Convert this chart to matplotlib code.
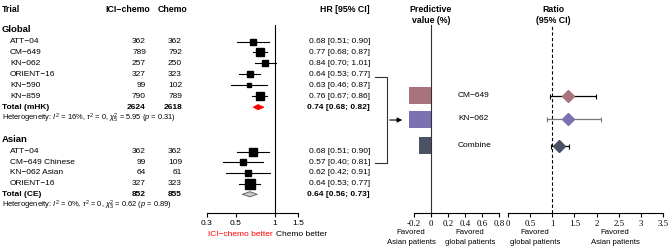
import numpy as np
import matplotlib
matplotlib.use("Agg")
from matplotlib import pyplot as plt

plt.rcParams['font.family'] = ['Liberation Sans', 'DejaVu Sans']
plt.rcParams['mathtext.fontset'] = 'custom'
plt.rcParams['mathtext.rm'] = 'Liberation Sans'
plt.rcParams['mathtext.it'] = 'Liberation Sans:italic'

# ---- data ----
global_trials = ["ATT\u221204", "CM\u2212649", "KN\u2212062", "ORIENT\u221216", "KN\u2212590", "KN\u2212859"]
global_ici = [362, 789, 257, 327, 99, 790]
global_chemo = [362, 792, 250, 323, 102, 789]
global_hr = [0.68, 0.77, 0.84, 0.64, 0.63, 0.76]
global_lo = [0.51, 0.68, 0.70, 0.53, 0.46, 0.67]
global_hi = [0.90, 0.87, 1.01, 0.77, 0.87, 0.86]
global_wt = [5, 8, 6, 6, 4, 8]
global_total = (2624, 2618, 0.74, 0.68, 0.82)

asian_trials = ["ATT\u221204", "CM\u2212649 Chinese", "KN\u2212062 Asian", "ORIENT\u221216"]
asian_ici = [362, 99, 64, 327]
asian_chemo = [362, 109, 61, 323]
asian_hr = [0.68, 0.57, 0.62, 0.64]
asian_lo = [0.51, 0.40, 0.42, 0.53]
asian_hi = [0.90, 0.81, 0.91, 0.77]
asian_wt = [7, 6, 5, 9]
asian_total = (852, 855, 0.64, 0.56, 0.73)

het_global = r"Heterogeneity: $I^2$ = 16%, $\tau^2$ = 0, $\chi^2_5$ = 5.95 ($p$ = 0.31)"
het_asian = r"Heterogeneity: $I^2$ = 0%, $\tau^2$ = 0, $\chi^2_3$ = 0.62 ($p$ = 0.89)"

pv_labels = ["CM\u2212649", "KN\u2212062", "Combine"]
pv_values = [-0.26, -0.26, -0.14]
ratio = [1.36, 1.36, 1.16]
ratio_lo = [0.95, 0.89, 0.98]
ratio_hi = [1.98, 2.09, 1.38]
colors = ["#a8737c", "#7a70b2", "#4b5266"]
err_colors = ["black", "#777777", "black"]

# ---- layout helpers (pixel units) ----
W, H = 668, 246
def box(x0, y0, x1, y1):
    return [x0 / W, 1 - y1 / H, (x1 - x0) / W, (y1 - y0) / H]

fig = plt.figure(figsize=(W / 100, H / 100), dpi=100)
bg = fig.add_axes([0, 0, 1, 1])
bg.set_xlim(0, W)
bg.set_ylim(H, 0)
bg.axis('off')

fs = 6.0
g_rows = [41.5 + 10.95 * i for i in range(len(global_trials))]
g_tot = 41.5 + 10.95 * 6
a_rows = [151.5 + 10.7 * i for i in range(len(asian_trials))]
a_tot = 151.5 + 10.7 * 4

# headers
bg.text(2, 9, "Trial", fontsize=6.3, fontweight='bold', va='center')
bg.text(150, 9, "ICI\u2212chemo", fontsize=6.3, fontweight='bold', va='center', ha='right')
bg.text(187, 9, "Chemo", fontsize=6.3, fontweight='bold', va='center', ha='right')
bg.text(345, 9, "HR [95% CI]", fontsize=6.3, fontweight='bold', va='center', ha='center')
bg.text(431, 5, "Predictive\nvalue (%)", fontsize=6.3, fontweight='bold', va='top', ha='center', linespacing=1.25)
bg.text(553, 5, "Ratio\n(95% CI)", fontsize=6.3, fontweight='bold', va='top', ha='center', linespacing=1.25)

def table(title, ty, names, ici, chemo, hr, lo, hi, rows, tot, trow, tlabel, het, hy):
    bg.text(2, ty, title, fontsize=6.8, fontweight='bold', va='center')
    for n, a, c, h, l, u, y in zip(names, ici, chemo, hr, lo, hi, rows):
        bg.text(10, y, n, fontsize=fs, va='center')
        bg.text(146, y, str(a), fontsize=fs, va='center', ha='right')
        bg.text(182, y, str(c), fontsize=fs, va='center', ha='right')
        bg.text(370, y, "%.2f [%.2f; %.2f]" % (h, l, u), fontsize=fs, va='center', ha='right')
    bg.text(2, trow, tlabel, fontsize=fs, fontweight='bold', va='center')
    bg.text(146, trow, str(tot[0]), fontsize=fs, fontweight='bold', va='center', ha='right')
    bg.text(182, trow, str(tot[1]), fontsize=fs, fontweight='bold', va='center', ha='right')
    bg.text(370, trow, "%.2f [%.2f; %.2f]" % tot[2:], fontsize=fs, fontweight='bold', va='center', ha='right')
    bg.text(2, hy, het, fontsize=5.4, va='center')

table("Global", 30, global_trials, global_ici, global_chemo, global_hr, global_lo, global_hi,
      g_rows, global_total, g_tot, "Total (mHK)", het_global, 118)
table("Asian", 140, asian_trials, asian_ici, asian_chemo, asian_hr, asian_lo, asian_hi,
      a_rows, asian_total, a_tot, "Total (CE)", het_asian, 205)

# connector + arrow
y1 = g_rows[3] + 2.5
y2 = a_rows[1] + 1
bg.plot([375, 387, 387, 375], [y1, y1, y2, y2], color='#333333', lw=0.8)
bg.annotate("", xy=(405, (y1 + y2) / 2), xytext=(387, (y1 + y2) / 2),
            arrowprops=dict(arrowstyle='-|>', color='black', lw=0.8, mutation_scale=7))

# ---- forest plot ----
ax = fig.add_axes(box(207, 25, 298, 213))
ax.set_xscale('log')
ax.set_xlim(0.3, 1.5)
ax.set_ylim(213, 25)
ax.patch.set_alpha(0)
for s in ['left', 'top', 'right']:
    ax.spines[s].set_visible(False)
ax.spines['bottom'].set_linewidth(0.8)
ax.set_yticks([])
ax.set_xticks([0.3, 0.5, 1, 1.5])
ax.set_xticklabels(["0.3", "0.5", "1", "1.5"])
ax.xaxis.set_minor_locator(matplotlib.ticker.NullLocator())
ax.tick_params(axis='x', labelsize=fs, length=3, width=0.8, pad=2)
ax.axvline(1, color='black', lw=0.8)

for hr, lo, hi, wt, rows in [(global_hr, global_lo, global_hi, global_wt, g_rows),
                             (asian_hr, asian_lo, asian_hi, asian_wt, a_rows)]:
    for h, l, u, w, y in zip(hr, lo, hi, wt, rows):
        ax.plot([l, u], [y, y], color='black', lw=0.8, clip_on=False)
        ax.plot(h, y, marker='s', color='black', markersize=w * 0.75, clip_on=False)

def diamond(h, l, u, y, fc, ec):
    xs = [l, h, u, h, l]
    ys = [y, y - 2.6, y, y + 2.6, y]
    ax.fill(xs, ys, facecolor=fc, edgecolor=ec, lw=0.6)

diamond(global_total[2], global_total[3], global_total[4], g_tot, 'red', 'red')
diamond(asian_total[2], asian_total[3], asian_total[4], a_tot, '#c8c8c8', '#555555')

bg.text(273, 234, "ICI\u2212chemo better", fontsize=fs, color='red', va='center', ha='right')
bg.text(276, 234, "Chemo better", fontsize=fs, color='black', va='center', ha='left')

# ---- predictive value panel ----
rows_r = [95.5, 119, 145.5]
serif = 'Liberation Serif'
pv = fig.add_axes(box(414, 25, 499, 213))
pv.set_xlim(-0.2, 0.8)
pv.set_ylim(213, 25)
pv.patch.set_alpha(0)
for s in ['left', 'top', 'right']:
    pv.spines[s].set_visible(False)
pv.spines['bottom'].set_linewidth(0.8)
pv.set_yticks([])
pv.set_xticks([-0.2, 0, 0.2, 0.4, 0.6, 0.8])
pv.set_xticklabels(["-0.2", "0", "0.2", "0.4", "0.6", "0.8"], family=serif)
pv.tick_params(axis='x', labelsize=6.4, length=3, width=0.8, pad=2)
pv.barh(rows_r, pv_values, height=17, color=colors, clip_on=False, zorder=2)
pv.axvline(0, color='#333333', lw=0.8, zorder=3)
for lab, y in zip(pv_labels, rows_r):
    bg.text(458, y, lab, fontsize=fs, va='center')

fl = 5.6
bg.text(411, 232, "Favored", fontsize=fl, ha='center', va='center')
bg.text(411, 243, "Asian patients", fontsize=fl, ha='center', va='center')
bg.text(470, 232, "Favored", fontsize=fl, ha='center', va='center')
bg.text(470, 243, "global patients", fontsize=fl, ha='center', va='center')

# ---- ratio panel ----
rt = fig.add_axes(box(508, 25, 663, 213))
rt.set_xlim(0, 3.5)
rt.set_ylim(213, 25)
rt.patch.set_alpha(0)
for s in ['left', 'top', 'right']:
    rt.spines[s].set_visible(False)
rt.spines['bottom'].set_linewidth(0.8)
rt.set_yticks([])
rt.set_xticks(np.arange(0, 3.6, 0.5))
rt.set_xticklabels(["0", "0.5", "1", "1.5", "2", "2.5", "3", "3.5"], family=serif)
rt.tick_params(axis='x', labelsize=6.4, length=3, width=0.8, pad=2)
rt.axvline(1, color='black', lw=0.8, ls=(0, (3, 2)))
for r, l, u, c, ec, y in zip(ratio, ratio_lo, ratio_hi, colors, err_colors, rows_r):
    rt.errorbar(r, y, xerr=[[r - l], [u - r]], fmt='none', ecolor=ec, elinewidth=0.9,
                capsize=1.8, capthick=0.8)
    rt.plot(r, y, marker='D', color=c, markersize=6, markeredgecolor=c, zorder=3)

bg.text(535, 232, "Favored", fontsize=fl, ha='center', va='center')
bg.text(535, 243, "global patients", fontsize=fl, ha='center', va='center')
bg.text(615, 232, "Favored", fontsize=fl, ha='center', va='center')
bg.text(615, 243, "Asian patients", fontsize=fl, ha='center', va='center')

fig.savefig("out.png", dpi=100)
